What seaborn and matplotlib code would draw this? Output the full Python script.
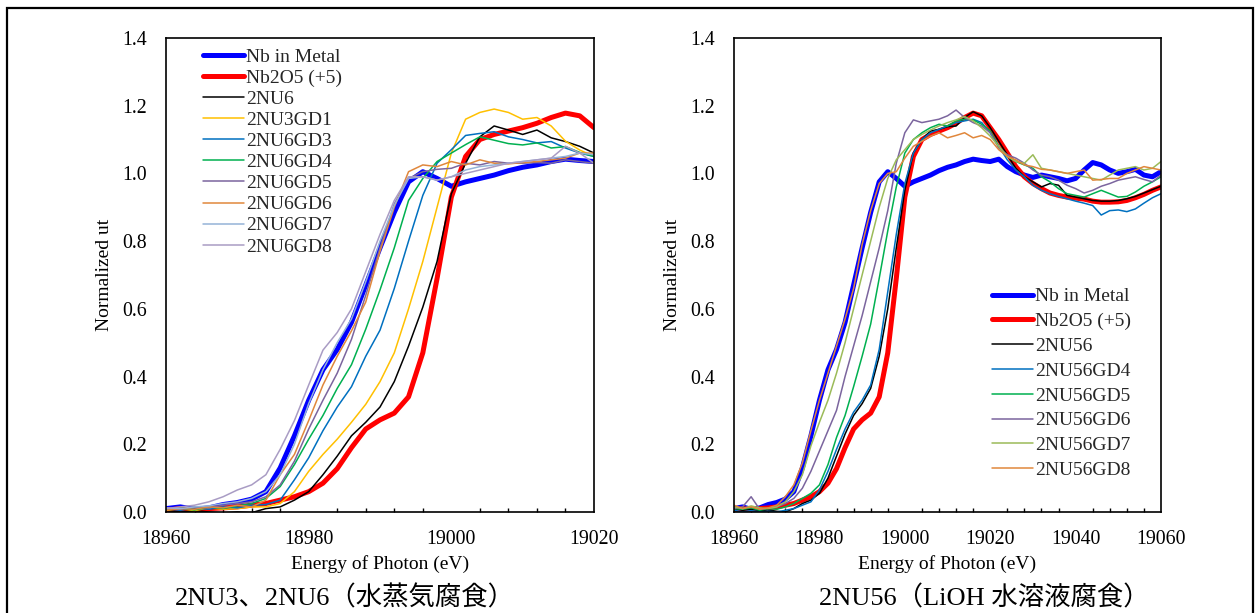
import matplotlib
matplotlib.use("Agg")
import matplotlib.pyplot as plt
import seaborn as sns
import pandas as pd
from matplotlib.patches import Rectangle
from matplotlib.ticker import MultipleLocator, FormatStrFormatter

# photon energy (eV), 2 eV sampling
energy = [18960, 18962, 18964, 18966, 18968, 18970, 18972, 18974, 18976, 18978,
          18980, 18982, 18984, 18986, 18988, 18990, 18992, 18994, 18996, 18998,
          19000, 19002, 19004, 19006, 19008, 19010, 19012, 19014, 19016, 19018,
          19020, 19022, 19024, 19026, 19028, 19030, 19032, 19034, 19036, 19038,
          19040, 19042, 19044, 19046, 19048, 19050, 19052, 19054, 19056, 19058,
          19060]
energy_left = energy[:31]

# reference spectra (both panels)
nb_metal = [0.010, 0.015, 0.008, 0.012, 0.022, 0.028, 0.038, 0.060, 0.130, 0.225,
            0.330, 0.420, 0.480, 0.560, 0.670, 0.780, 0.885, 0.975, 1.005, 0.985,
            0.962, 0.975, 0.985, 0.995, 1.008, 1.018, 1.025, 1.035, 1.042, 1.038,
            1.035, 1.042, 1.020, 1.005, 0.995, 0.988, 0.995, 0.990, 0.985, 0.978,
            0.985, 1.010, 1.032, 1.025, 1.010, 1.000, 1.005, 1.012, 0.995, 0.990,
            1.005]
nb2o5 = [0.005, 0.010, 0.006, 0.010, 0.012, 0.015, 0.020, 0.025, 0.035, 0.045,
         0.060, 0.085, 0.128, 0.190, 0.245, 0.272, 0.292, 0.340, 0.470, 0.690,
         0.930, 1.050, 1.100, 1.115, 1.125, 1.135, 1.148, 1.165, 1.178, 1.170,
         1.135, 1.100, 1.060, 1.020, 0.990, 0.970, 0.955, 0.942, 0.935, 0.930,
         0.927, 0.924, 0.918, 0.915, 0.915, 0.916, 0.920, 0.928, 0.938, 0.950,
         0.960]

# left panel: 2NU3 / 2NU6 (steam corrosion)
nu6 = [0.005, 0.000, 0.004, 0.000, -0.003, 0.000, -0.002, 0.010, 0.015, 0.035,
       0.060, 0.110, 0.165, 0.225, 0.265, 0.310, 0.385, 0.490, 0.605, 0.740,
       0.940, 1.030, 1.108, 1.140, 1.128, 1.115, 1.128, 1.105, 1.094, 1.080,
       1.060]
nu3gd1 = [0.005, 0.010, 0.004, 0.012, 0.008, 0.010, 0.015, 0.015, 0.025, 0.060,
          0.120, 0.170, 0.215, 0.265, 0.318, 0.385, 0.470, 0.600, 0.740, 0.900,
          1.060, 1.160, 1.180, 1.190, 1.180, 1.160, 1.165, 1.140, 1.095, 1.069,
          1.050]
nu6gd3 = [0.010, 0.005, 0.012, 0.008, 0.015, 0.012, 0.020, 0.022, 0.035, 0.095,
          0.160, 0.240, 0.310, 0.370, 0.460, 0.537, 0.660, 0.800, 0.935, 1.030,
          1.070, 1.112, 1.118, 1.123, 1.108, 1.100, 1.090, 1.094, 1.075, 1.060,
          1.050]
nu6gd4 = [0.008, 0.012, 0.006, 0.015, 0.010, 0.018, 0.025, 0.040, 0.075, 0.140,
          0.215, 0.285, 0.365, 0.435, 0.540, 0.656, 0.780, 0.920, 0.985, 1.035,
          1.060, 1.085, 1.108, 1.098, 1.088, 1.084, 1.090, 1.075, 1.079, 1.062,
          1.050]
nu6gd5 = [0.010, 0.008, 0.015, 0.012, 0.020, 0.025, 0.030, 0.045, 0.080, 0.150,
          0.245, 0.330, 0.410, 0.510, 0.640, 0.780, 0.910, 0.985, 1.005, 1.012,
          1.015, 1.030, 1.025, 1.035, 1.030, 1.030, 1.032, 1.030, 1.040, 1.035,
          1.030]
nu6gd6 = [0.005, 0.010, 0.008, 0.015, 0.012, 0.020, 0.015, 0.035, 0.110, 0.170,
          0.270, 0.375, 0.460, 0.535, 0.620, 0.770, 0.900, 1.005, 1.025, 1.020,
          1.035, 1.025, 1.040, 1.030, 1.028, 1.032, 1.035, 1.040, 1.045, 1.060,
          1.060]
nu6gd7 = [0.012, 0.010, 0.015, 0.018, 0.025, 0.030, 0.040, 0.060, 0.110, 0.200,
          0.320, 0.420, 0.500, 0.570, 0.680, 0.800, 0.905, 0.985, 0.990, 0.980,
          0.990, 1.010, 1.020, 1.025, 1.030, 1.035, 1.040, 1.045, 1.050, 1.060,
          1.055]
nu6gd8 = [0.010, 0.015, 0.020, 0.030, 0.045, 0.065, 0.080, 0.110, 0.185, 0.270,
          0.375, 0.478, 0.530, 0.600, 0.710, 0.820, 0.920, 0.990, 0.990, 0.980,
          0.990, 1.000, 1.010, 1.020, 1.030, 1.035, 1.040, 1.045, 1.080, 1.060,
          1.030]

# right panel: 2NU56 (LiOH solution corrosion)
nu56 = [0.010, 0.005, 0.008, 0.004, 0.006, 0.002, 0.000, 0.010, 0.025, 0.035,
        0.055, 0.100, 0.165, 0.230, 0.285, 0.320, 0.365, 0.460, 0.600, 0.780,
        0.950, 1.060, 1.100, 1.125, 1.130, 1.138, 1.140, 1.165, 1.182, 1.170,
        1.135, 1.095, 1.055, 1.015, 0.990, 0.975, 0.960, 0.970, 0.965, 0.935,
        0.930, 0.925, 0.920, 0.918, 0.918, 0.920, 0.925, 0.932, 0.942, 0.952,
        0.962]
nu56gd4 = [0.005, 0.000, 0.004, 0.000, 0.002, 0.000, 0.005, 0.010, 0.020, 0.030,
           0.065, 0.120, 0.185, 0.245, 0.295, 0.330, 0.375, 0.480, 0.650, 0.820,
           0.970, 1.060, 1.100, 1.120, 1.130, 1.140, 1.150, 1.155, 1.160, 1.150,
           1.120, 1.080, 1.040, 1.010, 0.990, 0.965, 0.950, 0.940, 0.932, 0.925,
           0.918, 0.912, 0.905, 0.877, 0.890, 0.892, 0.887, 0.895, 0.912, 0.928,
           0.940]
nu56gd5 = [0.010, 0.008, 0.012, 0.005, 0.010, 0.008, 0.015, 0.025, 0.040, 0.055,
           0.080, 0.140, 0.220, 0.285, 0.370, 0.460, 0.555, 0.690, 0.830, 0.960,
           1.060, 1.100, 1.120, 1.135, 1.145, 1.140, 1.155, 1.160, 1.158, 1.145,
           1.125, 1.080, 1.050, 1.035, 1.025, 1.015, 0.990, 0.975, 0.955, 0.940,
           0.935, 0.930, 0.940, 0.950, 0.940, 0.930, 0.932, 0.945, 0.962, 0.975,
           0.990]
nu56gd6 = [0.010, 0.015, 0.045, 0.008, 0.012, 0.015, 0.025, 0.040, 0.070, 0.120,
           0.180, 0.240, 0.300, 0.400, 0.490, 0.580, 0.680, 0.780, 0.890, 1.030,
           1.120, 1.158, 1.150, 1.155, 1.160, 1.170, 1.187, 1.165, 1.150, 1.140,
           1.120, 1.075, 1.055, 1.045, 1.030, 1.010, 0.995, 0.990, 0.980, 0.965,
           0.955, 0.942, 0.950, 0.962, 0.970, 0.980, 0.985, 0.990, 0.982, 0.975,
           0.995]
nu56gd7 = [0.015, 0.010, 0.018, 0.012, 0.010, 0.015, 0.030, 0.060, 0.110, 0.195,
           0.265, 0.330, 0.410, 0.500, 0.600, 0.700, 0.800, 0.900, 0.985, 1.040,
           1.070, 1.100, 1.115, 1.128, 1.140, 1.150, 1.158, 1.168, 1.155, 1.135,
           1.110, 1.080, 1.050, 1.035, 1.030, 1.055, 1.015, 1.010, 1.005, 1.000,
           0.995, 0.990, 0.985, 0.980, 0.995, 1.010, 1.015, 1.020, 1.010, 1.015,
           1.035]
nu56gd8 = [0.020, 0.010, 0.015, 0.008, 0.012, 0.020, 0.045, 0.080, 0.145, 0.240,
           0.330, 0.410, 0.490, 0.570, 0.660, 0.790, 0.890, 0.970, 1.000, 1.005,
           1.045, 1.080, 1.095, 1.110, 1.120, 1.105, 1.112, 1.120, 1.105, 1.112,
           1.100, 1.070, 1.050, 1.040, 1.025, 1.020, 1.012, 1.010, 1.005, 1.000,
           1.005, 1.010, 0.980, 0.982, 0.985, 0.985, 1.000, 1.010, 1.020, 1.015,
           1.010]

THICK, THIN = 3.6, 1.1
left_series = [
    ("Nb in Metal", energy_left, nb_metal[:31], "#0000FF", THICK),
    ("Nb2O5 (+5)", energy_left, nb2o5[:31], "#FF0000", THICK),
    ("2NU6", energy_left, nu6, "#000000", THIN),
    ("2NU3GD1", energy_left, nu3gd1, "#FFC000", THIN),
    ("2NU6GD3", energy_left, nu6gd3, "#0070C0", THIN),
    ("2NU6GD4", energy_left, nu6gd4, "#00B050", THIN),
    ("2NU6GD5", energy_left, nu6gd5, "#7B659E", THIN),
    ("2NU6GD6", energy_left, nu6gd6, "#E0873C", THIN),
    ("2NU6GD7", energy_left, nu6gd7, "#95B3D7", THIN),
    ("2NU6GD8", energy_left, nu6gd8, "#A99CC4", THIN),
]
right_series = [
    ("Nb in Metal", energy, nb_metal, "#0000FF", THICK),
    ("Nb2O5 (+5)", energy, nb2o5, "#FF0000", THICK),
    ("2NU56", energy, nu56, "#000000", THIN),
    ("2NU56GD4", energy, nu56gd4, "#0070C0", THIN),
    ("2NU56GD5", energy, nu56gd5, "#00B050", THIN),
    ("2NU56GD6", energy, nu56gd6, "#7B659E", THIN),
    ("2NU56GD7", energy, nu56gd7, "#9BBB59", THIN),
    ("2NU56GD8", energy, nu56gd8, "#E0873C", THIN),
]

sns.set_theme(style="white")
plt.rcParams["font.family"] = ["Liberation Serif", "Noto Sans CJK JP"]

fig = plt.figure(figsize=(12.55, 6.13), dpi=100)
ax1 = fig.add_axes([0.1323, 0.1648, 0.3410, 0.7733])
ax2 = fig.add_axes([0.5849, 0.1648, 0.3402, 0.7733])

for ax, series, xmax in [(ax1, left_series, 19020), (ax2, right_series, 19060)]:
    for name, e, v, color, lw in series:
        df = pd.DataFrame({"E": e, "v": v})
        sns.lineplot(data=df, x="E", y="v", ax=ax, color=color, linewidth=lw,
                     label=name, estimator=None, sort=False)
    ax.set_xlim(18960, xmax)
    ax.set_ylim(0, 1.4)
    ax.xaxis.set_major_locator(MultipleLocator(20))
    ax.xaxis.set_minor_locator(MultipleLocator(4))
    ax.yaxis.set_major_locator(MultipleLocator(0.2))
    ax.yaxis.set_major_formatter(FormatStrFormatter("%.1f"))
    ax.tick_params(which="major", direction="in", length=4.5, width=1,
                   labelsize=14.3, color="black", labelcolor="black")
    ax.tick_params(which="minor", axis="x", direction="in", length=3, width=1,
                   color="black", bottom=True)
    ax.tick_params(axis="x", pad=13)
    ax.tick_params(axis="y", pad=14)
    for s in ax.spines.values():
        s.set_color("black")
        s.set_linewidth(1.2)
    ax.set_xlabel("Energy of Photon (eV)", fontsize=14, color="black")
    ax.set_ylabel("Normalized ut", fontsize=14, color="black")
    ax.xaxis.set_label_coords(0.5, -0.09)
    ax.yaxis.set_label_coords(-0.125, 0.5)

ax1.legend(loc="upper left", bbox_to_anchor=(0.0864, 0.979), frameon=False,
           fontsize=14, handlelength=2.1, handletextpad=0.1, labelspacing=0.18,
           borderpad=0, borderaxespad=0)
ax2.legend(loc="upper left", bbox_to_anchor=(0.604, 0.473), frameon=False,
           fontsize=14, handlelength=2.1, handletextpad=0.1, labelspacing=0.37,
           borderpad=0, borderaxespad=0)

fig.text(345 / 1255, 1 - 598 / 613, "2NU3、2NU6（水蒸気腐食）",
         ha="center", va="center", fontsize=19, color="black")
fig.text(984 / 1255, 1 - 598 / 613, "2NU56（LiOH 水溶液腐食）",
         ha="center", va="center", fontsize=19, color="black")

fig.add_artist(Rectangle((7 / 1255, -0.05), 1246 / 1255, 1 - 8 / 613 + 0.05,
                         transform=fig.transFigure, fill=False,
                         linewidth=1.6, edgecolor="black"))

fig.savefig("out.png", dpi=100)
